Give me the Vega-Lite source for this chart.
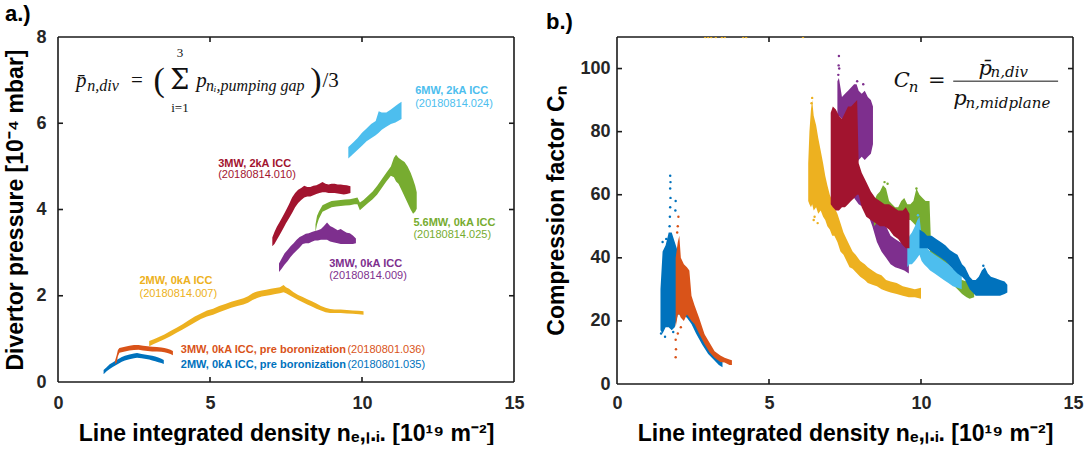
{
"$schema": "https://vega.github.io/schema/vega-lite/v6.json",
"padding": {"left": 4, "top": 3, "right": 0, "bottom": 0},
"spacing": 20,
"align": "none",
"datasets": {
"left": [
{"s":"035","x":1.5,"lo":0.18,"hi":0.28},{"s":"035","x":1.6,"lo":0.25,"hi":0.34},{"s":"035","x":1.7,"lo":0.3,"hi":0.41},{"s":"035","x":1.8,"lo":0.35,"hi":0.45},{"s":"035","x":1.9,"lo":0.39,"hi":0.5},{"s":"035","x":2.0,"lo":0.43,"hi":0.54},{"s":"035","x":2.1,"lo":0.47,"hi":0.58},{"s":"035","x":2.2,"lo":0.5,"hi":0.61},{"s":"035","x":2.35,"lo":0.53,"hi":0.64},{"s":"035","x":2.5,"lo":0.55,"hi":0.66},{"s":"035","x":2.6,"lo":0.56,"hi":0.67},{"s":"035","x":2.75,"lo":0.55,"hi":0.65},{"s":"035","x":2.85,"lo":0.54,"hi":0.64},{"s":"035","x":3.0,"lo":0.52,"hi":0.62},{"s":"035","x":3.1,"lo":0.5,"hi":0.61},{"s":"035","x":3.2,"lo":0.48,"hi":0.59},{"s":"035","x":3.3,"lo":0.46,"hi":0.57},{"s":"035","x":3.4,"lo":0.44,"hi":0.54},{"s":"035","x":3.48,"lo":0.42,"hi":0.51},
{"s":"036","x":1.88,"lo":0.42,"hi":0.5},{"s":"036","x":1.93,"lo":0.45,"hi":0.62},{"s":"036","x":1.97,"lo":0.6,"hi":0.74},{"s":"036","x":2.02,"lo":0.68,"hi":0.79},{"s":"036","x":2.2,"lo":0.71,"hi":0.82},{"s":"036","x":2.35,"lo":0.73,"hi":0.84},{"s":"036","x":2.5,"lo":0.74,"hi":0.86},{"s":"036","x":2.65,"lo":0.75,"hi":0.86},{"s":"036","x":2.8,"lo":0.73,"hi":0.84},{"s":"036","x":2.95,"lo":0.72,"hi":0.83},{"s":"036","x":3.1,"lo":0.71,"hi":0.82},{"s":"036","x":3.25,"lo":0.71,"hi":0.81},{"s":"036","x":3.4,"lo":0.7,"hi":0.8},{"s":"036","x":3.5,"lo":0.69,"hi":0.79},{"s":"036","x":3.6,"lo":0.67,"hi":0.77},{"s":"036","x":3.7,"lo":0.65,"hi":0.75},{"s":"036","x":3.78,"lo":0.62,"hi":0.72},
{"s":"007","x":3.0,"lo":0.83,"hi":0.95},{"s":"007","x":3.15,"lo":0.88,"hi":0.99},{"s":"007","x":3.3,"lo":0.93,"hi":1.04},{"s":"007","x":3.5,"lo":0.99,"hi":1.1},{"s":"007","x":3.7,"lo":1.06,"hi":1.18},{"s":"007","x":3.9,"lo":1.14,"hi":1.26},{"s":"007","x":4.1,"lo":1.22,"hi":1.34},{"s":"007","x":4.3,"lo":1.3,"hi":1.43},{"s":"007","x":4.5,"lo":1.38,"hi":1.52},{"s":"007","x":4.7,"lo":1.46,"hi":1.59},{"s":"007","x":4.9,"lo":1.52,"hi":1.66},{"s":"007","x":5.1,"lo":1.56,"hi":1.7},{"s":"007","x":5.3,"lo":1.62,"hi":1.76},{"s":"007","x":5.5,"lo":1.67,"hi":1.81},{"s":"007","x":5.7,"lo":1.72,"hi":1.86},{"s":"007","x":5.9,"lo":1.76,"hi":1.9},{"s":"007","x":6.1,"lo":1.8,"hi":1.94},{"s":"007","x":6.25,"lo":1.84,"hi":1.99},{"s":"007","x":6.4,"lo":1.9,"hi":2.06},{"s":"007","x":6.55,"lo":1.95,"hi":2.1},{"s":"007","x":6.7,"lo":1.98,"hi":2.12},{"s":"007","x":6.85,"lo":2.0,"hi":2.14},{"s":"007","x":7.0,"lo":2.02,"hi":2.16},{"s":"007","x":7.15,"lo":2.04,"hi":2.18},{"s":"007","x":7.3,"lo":2.06,"hi":2.2},{"s":"007","x":7.42,"lo":2.08,"hi":2.25},{"s":"007","x":7.5,"lo":2.06,"hi":2.2},{"s":"007","x":7.6,"lo":2.02,"hi":2.16},{"s":"007","x":7.75,"lo":1.96,"hi":2.08},{"s":"007","x":7.9,"lo":1.9,"hi":2.02},{"s":"007","x":8.05,"lo":1.85,"hi":1.97},{"s":"007","x":8.2,"lo":1.8,"hi":1.92},{"s":"007","x":8.35,"lo":1.75,"hi":1.87},{"s":"007","x":8.5,"lo":1.7,"hi":1.82},{"s":"007","x":8.65,"lo":1.66,"hi":1.76},{"s":"007","x":8.8,"lo":1.62,"hi":1.72},{"s":"007","x":8.95,"lo":1.6,"hi":1.69},{"s":"007","x":9.1,"lo":1.6,"hi":1.68},{"s":"007","x":9.3,"lo":1.6,"hi":1.68},{"s":"007","x":9.5,"lo":1.59,"hi":1.67},{"s":"007","x":9.7,"lo":1.58,"hi":1.66},{"s":"007","x":9.9,"lo":1.57,"hi":1.65},{"s":"007","x":10.05,"lo":1.56,"hi":1.64},
{"s":"009","x":7.27,"lo":2.55,"hi":2.75},{"s":"009","x":7.35,"lo":2.62,"hi":2.85},{"s":"009","x":7.45,"lo":2.72,"hi":2.98},{"s":"009","x":7.55,"lo":2.8,"hi":3.06},{"s":"009","x":7.65,"lo":2.9,"hi":3.15},{"s":"009","x":7.75,"lo":2.98,"hi":3.22},{"s":"009","x":7.85,"lo":3.05,"hi":3.3},{"s":"009","x":7.95,"lo":3.12,"hi":3.36},{"s":"009","x":8.05,"lo":3.2,"hi":3.4},{"s":"009","x":8.15,"lo":3.22,"hi":3.44},{"s":"009","x":8.25,"lo":3.22,"hi":3.45},{"s":"009","x":8.35,"lo":3.25,"hi":3.48},{"s":"009","x":8.45,"lo":3.28,"hi":3.5},{"s":"009","x":8.55,"lo":3.28,"hi":3.52},{"s":"009","x":8.65,"lo":3.3,"hi":3.55},{"s":"009","x":8.75,"lo":3.3,"hi":3.62},{"s":"009","x":8.85,"lo":3.3,"hi":3.7},{"s":"009","x":8.95,"lo":3.26,"hi":3.62},{"s":"009","x":9.05,"lo":3.24,"hi":3.58},{"s":"009","x":9.2,"lo":3.22,"hi":3.52},{"s":"009","x":9.3,"lo":3.2,"hi":3.55},{"s":"009","x":9.4,"lo":3.2,"hi":3.5},{"s":"009","x":9.5,"lo":3.2,"hi":3.46},{"s":"009","x":9.6,"lo":3.2,"hi":3.45},{"s":"009","x":9.7,"lo":3.2,"hi":3.4},{"s":"009","x":9.8,"lo":3.22,"hi":3.33},
{"s":"025","x":8.47,"lo":3.48,"hi":3.65},{"s":"025","x":8.52,"lo":3.65,"hi":3.85},{"s":"025","x":8.58,"lo":3.78,"hi":3.95},{"s":"025","x":8.7,"lo":3.95,"hi":4.1},{"s":"025","x":8.85,"lo":4.0,"hi":4.15},{"s":"025","x":9.0,"lo":4.05,"hi":4.2},{"s":"025","x":9.15,"lo":4.07,"hi":4.21},{"s":"025","x":9.3,"lo":4.08,"hi":4.22},{"s":"025","x":9.45,"lo":4.09,"hi":4.23},{"s":"025","x":9.6,"lo":4.1,"hi":4.24},{"s":"025","x":9.75,"lo":4.12,"hi":4.26},{"s":"025","x":9.85,"lo":4.12,"hi":4.28},{"s":"025","x":9.93,"lo":3.98,"hi":4.16},{"s":"025","x":10.05,"lo":4.06,"hi":4.22},{"s":"025","x":10.2,"lo":4.15,"hi":4.32},{"s":"025","x":10.35,"lo":4.24,"hi":4.42},{"s":"025","x":10.5,"lo":4.35,"hi":4.55},{"s":"025","x":10.65,"lo":4.5,"hi":4.7},{"s":"025","x":10.8,"lo":4.65,"hi":4.85},{"s":"025","x":10.95,"lo":4.78,"hi":5.0},{"s":"025","x":11.05,"lo":4.75,"hi":5.2},{"s":"025","x":11.12,"lo":4.65,"hi":5.27},{"s":"025","x":11.2,"lo":4.6,"hi":5.2},{"s":"025","x":11.3,"lo":4.45,"hi":5.15},{"s":"025","x":11.4,"lo":4.3,"hi":5.1},{"s":"025","x":11.5,"lo":4.15,"hi":5.0},{"s":"025","x":11.6,"lo":4.0,"hi":4.85},{"s":"025","x":11.68,"lo":3.9,"hi":4.7},{"s":"025","x":11.75,"lo":3.95,"hi":4.55},{"s":"025","x":11.8,"lo":4.02,"hi":4.4},
{"s":"024","x":9.55,"lo":5.18,"hi":5.45},{"s":"024","x":9.7,"lo":5.28,"hi":5.55},{"s":"024","x":9.85,"lo":5.38,"hi":5.65},{"s":"024","x":10.0,"lo":5.48,"hi":5.78},{"s":"024","x":10.15,"lo":5.58,"hi":5.88},{"s":"024","x":10.3,"lo":5.65,"hi":5.98},{"s":"024","x":10.45,"lo":5.72,"hi":6.05},{"s":"024","x":10.55,"lo":5.78,"hi":6.28},{"s":"024","x":10.65,"lo":5.85,"hi":6.25},{"s":"024","x":10.8,"lo":5.92,"hi":6.25},{"s":"024","x":10.95,"lo":5.98,"hi":6.32},{"s":"024","x":11.1,"lo":6.02,"hi":6.4},{"s":"024","x":11.2,"lo":6.06,"hi":6.45},{"s":"024","x":11.3,"lo":6.1,"hi":6.5},
{"s":"010","x":7.05,"lo":3.15,"hi":3.35},{"s":"010","x":7.12,"lo":3.2,"hi":3.48},{"s":"010","x":7.2,"lo":3.3,"hi":3.6},{"s":"010","x":7.3,"lo":3.42,"hi":3.72},{"s":"010","x":7.4,"lo":3.55,"hi":3.85},{"s":"010","x":7.5,"lo":3.68,"hi":3.98},{"s":"010","x":7.6,"lo":3.8,"hi":4.12},{"s":"010","x":7.7,"lo":3.92,"hi":4.28},{"s":"010","x":7.8,"lo":4.05,"hi":4.38},{"s":"010","x":7.9,"lo":4.15,"hi":4.46},{"s":"010","x":8.0,"lo":4.22,"hi":4.5},{"s":"010","x":8.1,"lo":4.28,"hi":4.55},{"s":"010","x":8.2,"lo":4.3,"hi":4.52},{"s":"010","x":8.3,"lo":4.3,"hi":4.52},{"s":"010","x":8.4,"lo":4.33,"hi":4.55},{"s":"010","x":8.5,"lo":4.36,"hi":4.56},{"s":"010","x":8.6,"lo":4.38,"hi":4.6},{"s":"010","x":8.7,"lo":4.4,"hi":4.64},{"s":"010","x":8.8,"lo":4.4,"hi":4.6},{"s":"010","x":8.9,"lo":4.38,"hi":4.58},{"s":"010","x":9.0,"lo":4.38,"hi":4.6},{"s":"010","x":9.1,"lo":4.38,"hi":4.6},{"s":"010","x":9.2,"lo":4.37,"hi":4.58},{"s":"010","x":9.3,"lo":4.36,"hi":4.58},{"s":"010","x":9.4,"lo":4.35,"hi":4.57},{"s":"010","x":9.5,"lo":4.36,"hi":4.56},{"s":"010","x":9.62,"lo":4.38,"hi":4.54}
],
"right": [
{"s":"035","g":"a","x":1.43,"lo":17,"hi":30},{"s":"035","g":"a","x":1.5,"lo":16,"hi":42},{"s":"035","g":"a","x":1.6,"lo":18,"hi":44},{"s":"035","g":"a","x":1.7,"lo":18,"hi":48},{"s":"035","g":"a","x":1.8,"lo":17,"hi":48},{"s":"035","g":"a","x":1.9,"lo":18,"hi":45},{"s":"035","g":"a","x":2.0,"lo":22,"hi":42},{"s":"035","g":"a","x":2.15,"lo":22,"hi":36},{"s":"035","g":"a","x":2.3,"lo":21,"hi":32},{"s":"035","g":"a","x":2.45,"lo":19,"hi":27},{"s":"035","g":"a","x":2.6,"lo":16,"hi":22},{"s":"035","g":"a","x":2.8,"lo":12.5,"hi":17},{"s":"035","g":"a","x":3.0,"lo":9.5,"hi":13},{"s":"035","g":"a","x":3.2,"lo":7.5,"hi":10},{"s":"035","g":"a","x":3.35,"lo":6,"hi":8.5},{"s":"035","g":"a","x":3.47,"lo":5.3,"hi":7},
{"s":"036","g":"a","x":1.93,"lo":18,"hi":40},{"s":"036","g":"a","x":2.0,"lo":22,"hi":45},{"s":"036","g":"a","x":2.05,"lo":22,"hi":47},{"s":"036","g":"a","x":2.1,"lo":21,"hi":40},{"s":"036","g":"a","x":2.2,"lo":20,"hi":38},{"s":"036","g":"a","x":2.3,"lo":22,"hi":37},{"s":"036","g":"a","x":2.38,"lo":21,"hi":36},{"s":"036","g":"a","x":2.45,"lo":20,"hi":28},{"s":"036","g":"a","x":2.55,"lo":19,"hi":25},{"s":"036","g":"a","x":2.7,"lo":16,"hi":21},{"s":"036","g":"a","x":2.88,"lo":12.7,"hi":15.8},{"s":"036","g":"a","x":3.05,"lo":10,"hi":13},{"s":"036","g":"a","x":3.21,"lo":8.3,"hi":10.4},{"s":"036","g":"a","x":3.4,"lo":7,"hi":9},{"s":"036","g":"a","x":3.54,"lo":6.8,"hi":8.3},{"s":"036","g":"a","x":3.7,"lo":6,"hi":7.8},{"s":"036","g":"a","x":3.78,"lo":6,"hi":7.5},
{"s":"007","g":"a","x":6.29,"lo":58,"hi":70},{"s":"007","g":"a","x":6.33,"lo":57,"hi":80},{"s":"007","g":"a","x":6.38,"lo":56,"hi":87},{"s":"007","g":"a","x":6.42,"lo":57,"hi":90},{"s":"007","g":"a","x":6.47,"lo":55,"hi":85},{"s":"007","g":"a","x":6.55,"lo":56,"hi":82},{"s":"007","g":"a","x":6.62,"lo":54,"hi":78},{"s":"007","g":"a","x":6.7,"lo":55,"hi":74},{"s":"007","g":"a","x":6.78,"lo":53,"hi":70},{"s":"007","g":"a","x":6.85,"lo":52,"hi":66},{"s":"007","g":"a","x":6.92,"lo":50,"hi":63},{"s":"007","g":"a","x":7.0,"lo":49,"hi":60},{"s":"007","g":"a","x":7.08,"lo":47,"hi":58},{"s":"007","g":"a","x":7.15,"lo":47,"hi":56},{"s":"007","g":"a","x":7.25,"lo":45,"hi":54},{"s":"007","g":"a","x":7.35,"lo":42,"hi":51},{"s":"007","g":"a","x":7.45,"lo":41,"hi":48},{"s":"007","g":"a","x":7.55,"lo":39,"hi":46},{"s":"007","g":"a","x":7.65,"lo":37,"hi":44},{"s":"007","g":"a","x":7.75,"lo":36.5,"hi":42},{"s":"007","g":"a","x":7.85,"lo":35.5,"hi":41},{"s":"007","g":"a","x":8.0,"lo":34,"hi":39},{"s":"007","g":"a","x":8.15,"lo":33,"hi":38},{"s":"007","g":"a","x":8.25,"lo":32,"hi":37},{"s":"007","g":"a","x":8.4,"lo":31.5,"hi":36},{"s":"007","g":"a","x":8.55,"lo":31,"hi":35},{"s":"007","g":"a","x":8.7,"lo":30,"hi":34.5},{"s":"007","g":"a","x":8.85,"lo":29.5,"hi":33},{"s":"007","g":"a","x":9.0,"lo":29,"hi":32.5},{"s":"007","g":"a","x":9.2,"lo":28.5,"hi":32},{"s":"007","g":"a","x":9.4,"lo":28,"hi":31},{"s":"007","g":"a","x":9.6,"lo":27.5,"hi":30.5},{"s":"007","g":"a","x":9.8,"lo":27.5,"hi":30},{"s":"007","g":"a","x":10.0,"lo":27,"hi":30.5},
{"s":"009","g":"a","x":7.25,"lo":84,"hi":96},{"s":"009","g":"a","x":7.3,"lo":85,"hi":97},{"s":"009","g":"a","x":7.4,"lo":84,"hi":91},{"s":"009","g":"a","x":7.5,"lo":84,"hi":92},{"s":"009","g":"a","x":7.6,"lo":85,"hi":93},{"s":"009","g":"a","x":7.7,"lo":84,"hi":94},{"s":"009","g":"a","x":7.8,"lo":83,"hi":95},{"s":"009","g":"a","x":7.88,"lo":70,"hi":95},{"s":"009","g":"a","x":7.95,"lo":71,"hi":93},{"s":"009","g":"a","x":8.05,"lo":72,"hi":92},{"s":"009","g":"a","x":8.15,"lo":71,"hi":93},{"s":"009","g":"a","x":8.25,"lo":72,"hi":91},{"s":"009","g":"a","x":8.35,"lo":73,"hi":90},{"s":"009","g":"a","x":8.42,"lo":76,"hi":88},
{"s":"009","g":"b","x":7.5,"lo":59,"hi":64},{"s":"009","g":"b","x":7.65,"lo":58,"hi":65},{"s":"009","g":"b","x":7.8,"lo":59,"hi":66},{"s":"009","g":"b","x":7.95,"lo":57,"hi":65},{"s":"009","g":"b","x":8.1,"lo":56,"hi":64},{"s":"009","g":"b","x":8.25,"lo":54,"hi":62},{"s":"009","g":"b","x":8.4,"lo":50,"hi":60},{"s":"009","g":"b","x":8.55,"lo":45,"hi":53},{"s":"009","g":"b","x":8.7,"lo":42,"hi":51},{"s":"009","g":"b","x":8.85,"lo":40,"hi":50},{"s":"009","g":"b","x":9.0,"lo":38,"hi":47},{"s":"009","g":"b","x":9.15,"lo":37,"hi":46},{"s":"009","g":"b","x":9.3,"lo":36.5,"hi":45},{"s":"009","g":"b","x":9.45,"lo":36,"hi":44.5},{"s":"009","g":"b","x":9.6,"lo":35,"hi":44},
{"s":"025","g":"a","x":8.45,"lo":50,"hi":58},{"s":"025","g":"a","x":8.55,"lo":51,"hi":60},{"s":"025","g":"a","x":8.65,"lo":52,"hi":61},{"s":"025","g":"a","x":8.75,"lo":53,"hi":63},{"s":"025","g":"a","x":8.85,"lo":53,"hi":62},{"s":"025","g":"a","x":8.95,"lo":51,"hi":58},{"s":"025","g":"a","x":9.05,"lo":50,"hi":57},{"s":"025","g":"a","x":9.15,"lo":50,"hi":56},{"s":"025","g":"a","x":9.25,"lo":50,"hi":56},{"s":"025","g":"a","x":9.35,"lo":51,"hi":58},{"s":"025","g":"a","x":9.45,"lo":51,"hi":59},{"s":"025","g":"a","x":9.55,"lo":52,"hi":57},{"s":"025","g":"a","x":9.65,"lo":52,"hi":57},{"s":"025","g":"a","x":9.75,"lo":51,"hi":58},{"s":"025","g":"a","x":9.85,"lo":50,"hi":62},{"s":"025","g":"a","x":9.95,"lo":46,"hi":60},{"s":"025","g":"a","x":10.05,"lo":45,"hi":59},{"s":"025","g":"a","x":10.15,"lo":45,"hi":58},{"s":"025","g":"a","x":10.28,"lo":43,"hi":58},{"s":"025","g":"a","x":10.32,"lo":40,"hi":47},{"s":"025","g":"a","x":10.45,"lo":38,"hi":44},{"s":"025","g":"a","x":10.6,"lo":36,"hi":42},{"s":"025","g":"a","x":10.75,"lo":35,"hi":40},{"s":"025","g":"a","x":10.9,"lo":33,"hi":38},{"s":"025","g":"a","x":11.05,"lo":31.5,"hi":36},{"s":"025","g":"a","x":11.2,"lo":30,"hi":34},{"s":"025","g":"a","x":11.35,"lo":28.5,"hi":33},{"s":"025","g":"a","x":11.5,"lo":27.5,"hi":32.5},{"s":"025","g":"a","x":11.6,"lo":27,"hi":31.5},{"s":"025","g":"a","x":11.75,"lo":27.5,"hi":30.5},
{"s":"024","g":"a","x":9.55,"lo":37,"hi":45},{"s":"024","g":"a","x":9.62,"lo":38,"hi":47},{"s":"024","g":"a","x":9.7,"lo":38,"hi":48},{"s":"024","g":"a","x":9.8,"lo":39,"hi":50},{"s":"024","g":"a","x":9.88,"lo":40,"hi":52},{"s":"024","g":"a","x":9.95,"lo":41,"hi":53},{"s":"024","g":"a","x":10.02,"lo":39,"hi":47},{"s":"024","g":"a","x":10.1,"lo":38,"hi":45},{"s":"024","g":"a","x":10.2,"lo":37,"hi":43},{"s":"024","g":"a","x":10.3,"lo":36,"hi":42},{"s":"024","g":"a","x":10.45,"lo":35,"hi":41},{"s":"024","g":"a","x":10.6,"lo":34,"hi":40},{"s":"024","g":"a","x":10.75,"lo":33,"hi":39},{"s":"024","g":"a","x":10.9,"lo":32,"hi":38},{"s":"024","g":"a","x":11.05,"lo":31,"hi":36.5},{"s":"024","g":"a","x":11.2,"lo":30.5,"hi":36},{"s":"024","g":"a","x":11.34,"lo":30,"hi":35},
{"s":"010","g":"a","x":7.03,"lo":57,"hi":86},{"s":"010","g":"a","x":7.1,"lo":56,"hi":88},{"s":"010","g":"a","x":7.2,"lo":55,"hi":87},{"s":"010","g":"a","x":7.3,"lo":55,"hi":85},{"s":"010","g":"a","x":7.4,"lo":56,"hi":84},{"s":"010","g":"a","x":7.5,"lo":56,"hi":86},{"s":"010","g":"a","x":7.6,"lo":57,"hi":88},{"s":"010","g":"a","x":7.7,"lo":58,"hi":88},{"s":"010","g":"a","x":7.8,"lo":59,"hi":89},{"s":"010","g":"a","x":7.9,"lo":60,"hi":90},{"s":"010","g":"a","x":7.95,"lo":60,"hi":70},{"s":"010","g":"a","x":8.05,"lo":56,"hi":67},{"s":"010","g":"a","x":8.2,"lo":53,"hi":64},{"s":"010","g":"a","x":8.35,"lo":52,"hi":61},{"s":"010","g":"a","x":8.5,"lo":51,"hi":59},{"s":"010","g":"a","x":8.65,"lo":50,"hi":58},{"s":"010","g":"a","x":8.8,"lo":50,"hi":57},{"s":"010","g":"a","x":8.95,"lo":49,"hi":57},{"s":"010","g":"a","x":9.1,"lo":47,"hi":56},{"s":"010","g":"a","x":9.25,"lo":46,"hi":55},{"s":"010","g":"a","x":9.4,"lo":44,"hi":55},{"s":"010","g":"a","x":9.5,"lo":43,"hi":56},{"s":"010","g":"a","x":9.62,"lo":43,"hi":54},
{"s":"b8","g":"a","x":9.95,"lo":43,"hi":49},{"s":"b8","g":"a","x":10.1,"lo":43,"hi":48},{"s":"b8","g":"a","x":10.2,"lo":43,"hi":47},{"s":"b8","g":"a","x":10.35,"lo":42,"hi":47},{"s":"b8","g":"a","x":10.5,"lo":41,"hi":46},{"s":"b8","g":"a","x":10.65,"lo":40,"hi":45},{"s":"b8","g":"a","x":10.8,"lo":39,"hi":44},{"s":"b8","g":"a","x":10.95,"lo":37.5,"hi":42.5},{"s":"b8","g":"a","x":11.1,"lo":36,"hi":41.5},{"s":"b8","g":"a","x":11.2,"lo":35,"hi":41},{"s":"b8","g":"a","x":11.35,"lo":34,"hi":38},{"s":"b8","g":"a","x":11.45,"lo":33,"hi":37},{"s":"b8","g":"a","x":11.6,"lo":30,"hi":34},{"s":"b8","g":"a","x":11.7,"lo":29,"hi":33},{"s":"b8","g":"a","x":11.8,"lo":28,"hi":33},{"s":"b8","g":"a","x":11.9,"lo":28,"hi":34},{"s":"b8","g":"a","x":12.0,"lo":28,"hi":36},{"s":"b8","g":"a","x":12.1,"lo":28,"hi":37},{"s":"b8","g":"a","x":12.2,"lo":28,"hi":35},{"s":"b8","g":"a","x":12.3,"lo":28,"hi":34},{"s":"b8","g":"a","x":12.45,"lo":28,"hi":33.5},{"s":"b8","g":"a","x":12.6,"lo":28,"hi":33},{"s":"b8","g":"a","x":12.75,"lo":28.5,"hi":32.5},{"s":"b8","g":"a","x":12.84,"lo":29,"hi":31.5}
],
"pts": [
{"s":"035","x":1.73,"y":50},{"s":"035","x":1.74,"y":53},{"s":"035","x":1.75,"y":56},{"s":"035","x":1.76,"y":59},{"s":"035","x":1.75,"y":62},{"s":"035","x":1.76,"y":64},{"s":"035","x":1.75,"y":66},{"s":"035","x":1.92,"y":55},{"s":"035","x":1.93,"y":58},{"s":"035","x":1.5,"y":45},{"s":"035","x":1.62,"y":46},{"s":"035","x":1.45,"y":16},{"s":"035","x":1.58,"y":15},{"s":"035","x":1.85,"y":16.5},
{"s":"036","x":1.98,"y":48},{"s":"036","x":2.0,"y":50},{"s":"036","x":2.02,"y":53},{"s":"036","x":1.93,"y":14},{"s":"036","x":1.94,"y":11},{"s":"036","x":1.93,"y":8.5},{"s":"036","x":2.0,"y":16},{"s":"036","x":2.1,"y":18},
{"s":"007","x":6.42,"y":90.7},{"s":"007","x":6.4,"y":89},{"s":"007","x":6.47,"y":52},{"s":"007","x":6.5,"y":53},{"s":"007","x":6.6,"y":51},{"s":"007","x":2.9,"y":110},{"s":"007","x":3.0,"y":110},{"s":"007","x":3.1,"y":110},{"s":"007","x":3.25,"y":110},{"s":"007","x":3.45,"y":110},{"s":"007","x":3.55,"y":110},{"s":"007","x":4.15,"y":110},{"s":"007","x":4.25,"y":110},{"s":"007","x":6.12,"y":110},
{"s":"009","x":7.28,"y":98},{"s":"009","x":7.29,"y":101},{"s":"009","x":7.3,"y":104},{"s":"009","x":7.31,"y":100},{"s":"009","x":7.9,"y":96},{"s":"009","x":8.1,"y":95},
{"s":"025","x":9.85,"y":62},{"s":"025","x":8.8,"y":64},{"s":"025","x":8.9,"y":63.5},
{"s":"024","x":9.9,"y":53.5},
{"s":"b8","x":12.05,"y":37.5}
],
"ann": [
{"s":"024","x":11.75,"y":6.75,"t":"6MW, 2kA ICC","r":"b"},{"s":"024","x":11.75,"y":6.45,"t":"(20180814.024)","r":"n"},
{"s":"010","x":5.27,"y":5.06,"t":"3MW, 2kA ICC","r":"b"},{"s":"010","x":5.27,"y":4.79,"t":"(20180814.010)","r":"n"},
{"s":"025","x":11.69,"y":3.69,"t":"5.6MW, 0kA ICC","r":"b"},{"s":"025","x":11.69,"y":3.41,"t":"(20180814.025)","r":"n"},
{"s":"009","x":8.92,"y":2.74,"t":"3MW, 0kA ICC","r":"b"},{"s":"009","x":8.92,"y":2.46,"t":"(20180814.009)","r":"n"},
{"s":"007","x":2.68,"y":2.34,"t":"2MW, 0kA ICC","r":"b"},{"s":"007","x":2.68,"y":2.04,"t":"(20180814.007)","r":"n"},
{"s":"036","x":4.04,"y":0.74,"t":"3MW, 0kA ICC, pre boronization","r":"b"},{"s":"036","x":9.52,"y":0.74,"t":"(20180801.036)","r":"n"},
{"s":"035","x":4.04,"y":0.39,"t":"2MW, 0kA ICC, pre boronization","r":"b"},{"s":"035","x":9.52,"y":0.39,"t":"(20180801.035)","r":"n"}
],
"f": [
{"p":"a","x":0.59,"y":6.97,"t":"p̄","r":"m"},{"p":"a","x":0.96,"y":6.86,"t":"n,div","r":"s"},{"p":"a","x":2.4,"y":6.97,"t":"=","r":"u"},{"p":"a","x":3.14,"y":6.97,"t":"(","r":"p"},{"p":"a","x":4.01,"y":6.97,"t":"Σ","r":"g"},{"p":"a","x":4.01,"y":7.62,"t":"3","r":"l"},{"p":"a","x":4.01,"y":6.36,"t":"i=1","r":"l"},{"p":"a","x":4.55,"y":6.97,"t":"p","r":"m"},{"p":"a","x":4.87,"y":6.86,"t":"nᵢ,pumping gap","r":"s"},{"p":"a","x":8.3,"y":6.97,"t":")","r":"p"},{"p":"a","x":8.7,"y":6.97,"t":"/3","r":"u"},
{"p":"b","x":9.1,"y":96,"t":"C","r":"m"},{"p":"b","x":9.6,"y":94.3,"t":"n","r":"s"},{"p":"b","x":10.23,"y":96,"t":"=","r":"u"},{"p":"b","x":11.89,"y":99.8,"t":"p̄","r":"m"},{"p":"b","x":12.29,"y":98.8,"t":"n,div","r":"s"},{"p":"b","x":11.06,"y":90.2,"t":"p","r":"m"},{"p":"b","x":11.46,"y":89.2,"t":"n,midplane","r":"s"}
],
"bar": [{"x":11.06,"x2":14.51,"y":96}],
"ln": [
{"p":"a","x":0,"x2":15,"y":0,"y2":0},{"p":"a","x":0,"x2":15,"y":8,"y2":8},{"p":"a","x":0,"x2":0,"y":0,"y2":8},{"p":"a","x":15,"x2":15,"y":0,"y2":8},
{"p":"a","x":5,"x2":5,"y":0,"y2":0.116},{"p":"a","x":10,"x2":10,"y":0,"y2":0.116},{"p":"a","x":5,"x2":5,"y":8,"y2":7.884},{"p":"a","x":10,"x2":10,"y":8,"y2":7.884},
{"p":"a","x":0,"x2":0.164,"y":2,"y2":2},{"p":"a","x":0,"x2":0.164,"y":4,"y2":4},{"p":"a","x":0,"x2":0.164,"y":6,"y2":6},
{"p":"a","x":15,"x2":14.836,"y":2,"y2":2},{"p":"a","x":15,"x2":14.836,"y":4,"y2":4},{"p":"a","x":15,"x2":14.836,"y":6,"y2":6},
{"p":"b","x":0,"x2":15,"y":0,"y2":0},{"p":"b","x":0,"x2":15,"y":110,"y2":110},{"p":"b","x":0,"x2":0,"y":0,"y2":110},{"p":"b","x":15,"x2":15,"y":0,"y2":110},
{"p":"b","x":5,"x2":5,"y":0,"y2":1.58},{"p":"b","x":10,"x2":10,"y":0,"y2":1.58},{"p":"b","x":5,"x2":5,"y":110,"y2":108.42},{"p":"b","x":10,"x2":10,"y":110,"y2":108.42},
{"p":"b","x":0,"x2":0.164,"y":20,"y2":20},{"p":"b","x":0,"x2":0.164,"y":40,"y2":40},{"p":"b","x":0,"x2":0.164,"y":60,"y2":60},{"p":"b","x":0,"x2":0.164,"y":80,"y2":80},{"p":"b","x":0,"x2":0.164,"y":100,"y2":100},
{"p":"b","x":15,"x2":14.836,"y":20,"y2":20},{"p":"b","x":15,"x2":14.836,"y":40,"y2":40},{"p":"b","x":15,"x2":14.836,"y":60,"y2":60},{"p":"b","x":15,"x2":14.836,"y":80,"y2":80},{"p":"b","x":15,"x2":14.836,"y":100,"y2":100}
]
},
"hconcat": [
{
"width": 456, "height": 345,
"title": {"text": "a.)"},
"layer": [
{"data": {"name": "ln"}, "transform": [{"filter": "datum.p == 'a'"}],
 "mark": {"type": "rule", "color": "#1a1a1a", "strokeWidth": 1.6, "opacity": 1},
 "encoding": {
  "x": {"field": "x", "type": "quantitative", "scale": {"domain": [0, 15], "nice": false}, "axis": {"values": [0, 5, 10, 15], "title": "Line integrated density nₑ,ₗ.ᵢ. [10¹⁹ m⁻²]", "labelPadding": 12, "titlePadding": 10}},
  "x2": {"field": "x2"},
  "y": {"field": "y", "type": "quantitative", "scale": {"domain": [0, 8], "nice": false}, "axis": {"values": [0, 2, 4, 6, 8], "title": "Divertor pressure [10⁻⁴ mbar]", "labelPadding": 12, "titlePadding": 8}},
  "y2": {"field": "y2"}
 }},
{"data": {"name": "left"}, "mark": {"type": "area", "clip": true},
 "encoding": {
  "x": {"field": "x", "type": "quantitative"},
  "y": {"field": "lo", "type": "quantitative"},
  "y2": {"field": "hi"},
  "color": {"field": "s", "type": "nominal", "legend": null, "scale": {"domain": ["035","036","007","009","025","024","010","b8"], "range": ["#0072BD","#D95319","#EDB120","#7E2F8E","#77AC30","#4DBEEE","#A2142F","#0072BD"]}}
 }},
{"data": {"name": "ann"}, "transform": [{"filter": "datum.r == 'b'"}],
 "mark": {"type": "text", "align": "left", "baseline": "middle", "fontSize": 11, "fontWeight": "bold", "font": "Liberation Sans"},
 "encoding": {"x": {"field": "x", "type": "quantitative"}, "y": {"field": "y", "type": "quantitative"}, "text": {"field": "t"}, "color": {"field": "s", "type": "nominal", "legend": null}}},
{"data": {"name": "ann"}, "transform": [{"filter": "datum.r == 'n'"}],
 "mark": {"type": "text", "align": "left", "baseline": "middle", "fontSize": 11, "font": "Liberation Sans"},
 "encoding": {"x": {"field": "x", "type": "quantitative"}, "y": {"field": "y", "type": "quantitative"}, "text": {"field": "t"}, "color": {"field": "s", "type": "nominal", "legend": null}}},
{"data": {"name": "f"}, "transform": [{"filter": "datum.p == 'a' && datum.r == 'm'"}],
 "mark": {"type": "text", "align": "left", "baseline": "middle", "fontSize": 21, "fontStyle": "italic", "font": "Liberation Serif", "color": "#111"},
 "encoding": {"x": {"field": "x", "type": "quantitative"}, "y": {"field": "y", "type": "quantitative"}, "text": {"field": "t"}}},
{"data": {"name": "f"}, "transform": [{"filter": "datum.p == 'a' && datum.r == 's'"}],
 "mark": {"type": "text", "align": "left", "baseline": "middle", "fontSize": 16, "fontStyle": "italic", "font": "Liberation Serif", "color": "#111"},
 "encoding": {"x": {"field": "x", "type": "quantitative"}, "y": {"field": "y", "type": "quantitative"}, "text": {"field": "t"}}},
{"data": {"name": "f"}, "transform": [{"filter": "datum.p == 'a' && datum.r == 'u'"}],
 "mark": {"type": "text", "align": "left", "baseline": "middle", "fontSize": 21, "font": "Liberation Serif", "color": "#111"},
 "encoding": {"x": {"field": "x", "type": "quantitative"}, "y": {"field": "y", "type": "quantitative"}, "text": {"field": "t"}}},
{"data": {"name": "f"}, "transform": [{"filter": "datum.p == 'a' && datum.r == 'p'"}],
 "mark": {"type": "text", "align": "left", "baseline": "middle", "fontSize": 34, "font": "Liberation Serif", "color": "#111"},
 "encoding": {"x": {"field": "x", "type": "quantitative"}, "y": {"field": "y", "type": "quantitative"}, "text": {"field": "t"}}},
{"data": {"name": "f"}, "transform": [{"filter": "datum.p == 'a' && datum.r == 'g'"}],
 "mark": {"type": "text", "align": "center", "baseline": "middle", "fontSize": 27, "font": "DejaVu Serif", "color": "#111"},
 "encoding": {"x": {"field": "x", "type": "quantitative"}, "y": {"field": "y", "type": "quantitative"}, "text": {"field": "t"}}},
{"data": {"name": "f"}, "transform": [{"filter": "datum.p == 'a' && datum.r == 'l'"}],
 "mark": {"type": "text", "align": "center", "baseline": "middle", "fontSize": 13, "font": "Liberation Serif", "color": "#111"},
 "encoding": {"x": {"field": "x", "type": "quantitative"}, "y": {"field": "y", "type": "quantitative"}, "text": {"field": "t"}}}
]
},
{
"width": 456, "height": 347,
"title": {"text": "b.)"},
"layer": [
{"data": {"name": "ln"}, "transform": [{"filter": "datum.p == 'b'"}],
 "mark": {"type": "rule", "color": "#1a1a1a", "strokeWidth": 1.6, "opacity": 1},
 "encoding": {
  "x": {"field": "x", "type": "quantitative", "scale": {"domain": [0, 15], "nice": false}, "axis": {"values": [0, 5, 10, 15], "title": "Line integrated density nₑ,ₗ.ᵢ. [10¹⁹ m⁻²]", "labelPadding": 10, "titlePadding": 10}},
  "x2": {"field": "x2"},
  "y": {"field": "y", "type": "quantitative", "scale": {"domain": [0, 110], "nice": false}, "axis": {"values": [0, 20, 40, 60, 80, 100], "title": "Compression factor Cₙ", "labelPadding": 7, "titlePadding": 11}},
  "y2": {"field": "y2"}
 }},
{"data": {"name": "right"}, "mark": {"type": "area", "clip": true},
 "encoding": {
  "x": {"field": "x", "type": "quantitative"},
  "y": {"field": "lo", "type": "quantitative"},
  "y2": {"field": "hi"},
  "detail": {"field": "g"},
  "color": {"field": "s", "type": "nominal", "legend": null, "scale": {"domain": ["035","036","007","009","025","024","010","b8"], "range": ["#0072BD","#D95319","#EDB120","#7E2F8E","#77AC30","#4DBEEE","#A2142F","#0072BD"]}}
 }},
{"data": {"name": "pts"}, "mark": {"type": "point", "filled": true, "size": 6, "opacity": 1, "clip": true},
 "encoding": {"x": {"field": "x", "type": "quantitative"}, "y": {"field": "y", "type": "quantitative"}, "color": {"field": "s", "type": "nominal", "legend": null}}},
{"data": {"name": "bar"}, "mark": {"type": "rule", "color": "#111", "strokeWidth": 1},
 "encoding": {"x": {"field": "x", "type": "quantitative"}, "x2": {"field": "x2"}, "y": {"field": "y", "type": "quantitative"}}},
{"data": {"name": "f"}, "transform": [{"filter": "datum.p == 'b' && datum.r == 'm'"}],
 "mark": {"type": "text", "align": "left", "baseline": "middle", "fontSize": 21, "fontStyle": "italic", "font": "DejaVu Serif", "color": "#111"},
 "encoding": {"x": {"field": "x", "type": "quantitative"}, "y": {"field": "y", "type": "quantitative"}, "text": {"field": "t"}}},
{"data": {"name": "f"}, "transform": [{"filter": "datum.p == 'b' && datum.r == 's'"}],
 "mark": {"type": "text", "align": "left", "baseline": "middle", "fontSize": 15, "fontStyle": "italic", "font": "DejaVu Serif", "color": "#111"},
 "encoding": {"x": {"field": "x", "type": "quantitative"}, "y": {"field": "y", "type": "quantitative"}, "text": {"field": "t"}}},
{"data": {"name": "f"}, "transform": [{"filter": "datum.p == 'b' && datum.r == 'u'"}],
 "mark": {"type": "text", "align": "left", "baseline": "middle", "fontSize": 21, "font": "DejaVu Serif", "color": "#111"},
 "encoding": {"x": {"field": "x", "type": "quantitative"}, "y": {"field": "y", "type": "quantitative"}, "text": {"field": "t"}}}
]
}
],
"config": {
 "view": {"stroke": null},
 "font": "Liberation Sans",
 "axis": {"domain": false, "ticks": false, "grid": false, "labelFlush": false, "labelFont": "Liberation Sans", "labelFontWeight": "bold", "labelFontSize": 18, "labelColor": "#262626", "titleFont": "Liberation Sans", "titleFontWeight": "bold", "titleFontSize": 23, "titleColor": "#000"},
 "title": {"font": "Liberation Sans", "fontSize": 22, "fontWeight": "bold", "anchor": "start", "frame": "bounds", "offset": 2, "color": "#000"}
}
}
